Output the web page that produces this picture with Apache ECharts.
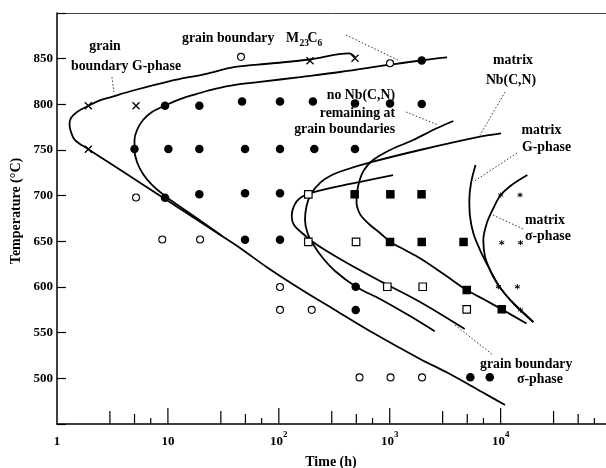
<!DOCTYPE html>
<html><head><meta charset="utf-8">
<script src="https://cdn.jsdelivr.net/npm/echarts@6/dist/echarts.min.js"></script>
<style>html,body{margin:0;padding:0;background:#fff}#c{width:606px;height:468px}</style>
</head><body><div id="c"></div>
<script>
// ---- data: [time (h), temperature (°C)] ----
const yTicks = [500, 550, 600, 650, 700, 750, 800, 850];
const xMinorTicks = [3,5,7,10,30,50,70,100,300,500,700,1000,3000,5000,7000,10000,30000,50000,70000];

const openCircles = [[45.6,852],[1006,845],[5.16,698],[8.9,652],[19.5,652],[102.5,600],[102.5,575],[198,575],[534,501],[1017,501],[1956,501]];
const filledCircles = [[9.42,798.5],[19.2,798.5],[46.6,803],[102.5,803],[203,803],[486,801],[1006,801],[1944,800.4],[1944,848],
  [5.0,751],[10.1,751],[19.2,751],[49.6,751],[102.5,751],[209,751],[486,751],
  [9.42,697.8],[19.2,701.5],[49.6,702.6],[102.5,702.6],[49.6,651.8],[102.5,651.8],
  [493.6,600.3],[493.6,574.8],[5331,501.1],[7975,501.1]];
const crosses = [[1.915,798.5],[5.16,798.5],[1.915,750.8],[191,847.8],[486,850.4]];
const openSquares = [[184.5,701.5],[184.5,649.3],[497,649.3],[951,600.3],[1984,600.3],[4946,575.6]];
const filledSquares = [[483,701.5],[1013,701.5],[1936,701.5],[1006,649.3],[1944,649.3],[4630,649.3],[4946,596.7],[10230,575.6]];
const stars = [[10020,700.7],[14960,700.7],[10230,648.5],[15110,648.5],[9535,600.3],[14150,600.3],[15110,574.8]];

const gbGphase = [[486,851.8],[430,855.7],[191,849.1],[83.3,844.7],[40.3,840.9],[21.6,833.2],[10.44,825.5],[5.05,815.7],[3.07,808.0],[2.343,803.6],[1.904,798.2],[1.515,791.6],[1.337,785.0],[1.296,778.5],[1.337,769.7],[1.453,760.9],[1.904,751.1],[2.71,739.0],[3.857,727.0],[6.22,710.6],[9.42,696.3],[14.27,682.1],[21.6,667.9],[30.7,655.8],[44.7,642.7],[79.9,620.8],[161.9,596.7],[321,574.8],[637,552.9],[1876,521.2],[3355,505.8],[6798,485.0],[10960,470.8]];
const gbM23C6 = [[3286,851.3],[1876,848.0],[965,843.1],[356,835.4],[155.3,829.9],[67.7,824.5],[40.3,821.2],[26.6,816.8],[19.47,812.4],[12.86,805.8],[9.42,798.7],[7.19,791.6],[5.964,782.8],[5.265,771.9],[4.998,760.9],[4.998,750.0],[5.265,736.9],[5.964,723.7],[7.19,711.7],[9.42,699.6],[13.40,686.5],[18.68,674.4],[26.6,661.3],[30.7,655.8]];
const gbSigma = [[1071,722.6],[438.5,712.8],[203.4,703.5],[155.3,697.4],[137.1,688.7],[130.7,677.7],[137.1,667.9],[161.9,659.1],[203.4,649.3],[261,640.5],[412,626.3],[817.6,606.6],[1876,583.6],[4745,554.0]];
const matrixNbCN = [[10084,768.3],[6521,764.6],[1876,750.0],[707,737.2],[395,728.1],[289.5,721.5],[235.2,713.9],[195.2,701.8],[177.8,688.7],[172.3,673.4],[181.5,659.1],[203.4,647.1],[245.2,632.8],[321,617.5],[496.7,600.3],[817.6,586.9],[1524,568.2],[2546,551.5]];
const noNbCN = [[3746,781.8],[2562,773.0],[1623,760.9],[1006,750.0],[707,739.0],[586.6,728.1],[536.4,717.2],[507.2,704.0],[501.9,692.0],[523.2,683.2],[562.7,676.6],[664.3,667.9],[817.6,659.1],[1006,649.6],[1374,640.5],[1876,631.4],[3152,613.1],[4946,596.7],[7235,585.8],[10230,575.6],[17125,560.0]];
const matrixG = [[5939,733.6],[5409,713.9],[5222,695.3],[5298,677.0],[5674,658.8],[6521,640.5],[8024,618.6],[9280,604.4],[10960,592.3],[13487,580.3],[19720,561.7]];
const matrixSigma = [[17410,722.6],[12597,711.7],[10021,700.7],[8596,686.2],[7494,669.7],[6982,651.5],[7235,633.2],[8024,618.6],[9280,604.4],[10960,592.3],[13487,580.3],[19720,561.7]];
const leaders = [
  [[3.13,829.9],[3.266,813.5]],
  [[403.6,875.9],[1188,848.5]],
  [[1403,791.6],[2727,777.4]],
  [[10960,813.5],[6521,766.4]],
  [[14060,746.7],[5638,715.0]],
  [[8542,678.8],[15920,663.5]],
  [[3880,558.4],[8542,525.5]]
];

// ---- chart ----
const FF = '"Liberation Serif","Times New Roman",serif';
const chart = echarts.init(document.getElementById('c'), null, {renderer:'canvas'});
const XMAX = Math.pow(10, 4.95);

function sc(data, symbol, size, fill, bw) {
  return {type:'scatter', data, symbol, symbolSize:size, silent:true, animation:false, z:6,
    itemStyle:{color:fill, borderColor:'#000', borderWidth:bw, opacity:1}};
}
function ln(data) {
  return {type:'line', data, showSymbol:false, symbol:'none', smooth:0.35, silent:true, animation:false, z:4,
    lineStyle:{color:'#000', width:1.8}};
}
const series = [
  ln(gbGphase), ln(gbM23C6), ln(gbSigma), ln(matrixNbCN), ln(noNbCN), ln(matrixG), ln(matrixSigma),
  ...leaders.map(d => ({type:'line', data:d, showSymbol:false, symbol:'none', silent:true, animation:false, z:3,
    lineStyle:{color:'#333', width:1, type:[1.5,2]}})),
  sc(openCircles, 'circle', 7, '#fff', 1.1),
  sc(filledCircles, 'circle', 8.5, '#000', 0),
  sc(crosses, 'path://M0,0L10,10M10,0L0,10', 7, 'none', 1.3),
  sc(openSquares, 'rect', 7.5, '#fff', 1.2),
  sc(filledSquares, 'rect', 8.5, '#000', 0),
  sc(stars, 'path://M5,0L5,10M0,2.5L10,7.5M0,7.5L10,2.5', 5, 'none', 1),
  {type:'custom', silent:true, animation:false, z:7, clip:false,
   data: xMinorTicks.map(v => [v, 450]),
   renderItem: (params, api) => {
     const v = api.value(0);
     const p = api.coord([v, 450]);
     const e = Math.floor(Math.log10(v) + 1e-9);
     const m = Math.round(v / Math.pow(10, e));
     const len = m === 1 ? 16 : m === 3 ? 13 : m === 5 ? 10 : 6;
     return {type:'line', shape:{x1:p[0], y1:p[1], x2:p[0], y2:p[1]-len}, style:{stroke:'#000', lineWidth:1.2}};
   }}
];

function txt(text, x, y, align, size) {
  const s = size || 13.8;
  return {type:'text', x, y, silent:true, z:20,
    style:{text, fill:'#000', font:'bold ' + s + 'px ' + FF, fontSize:s, fontWeight:'bold', fontFamily:FF,
      align, textAlign:align, verticalAlign:'middle', textVerticalAlign:'middle'}};
}

chart.setOption({
  animation:false,
  backgroundColor:'#fff',
  grid:{left:57, top:13, right:0, bottom:44, containLabel:false},
  xAxis:[{
    type:'log', logBase:10, min:1, max:XMAX, gridIndex:0,
    axisLine:{show:true, onZero:false, lineStyle:{color:'#000', width:1.5}},
    axisTick:{show:false}, minorTick:{show:false}, splitLine:{show:false},
    axisLabel:{
      margin:6, color:'#000', showMaxLabel:false,
      formatter:(v) => {
        const l = Math.log10(v);
        const k = Math.round(l);
        if (Math.abs(l - k) > 1e-6) return '';
        if (k === 0) return '{m|1}';
        if (k === 1) return '{m|10}';
        return '{m|10}{s|' + k + '}';
      },
      rich:{
        m:{fontFamily:FF, fontWeight:'bold', fontSize:13, lineHeight:18, verticalAlign:'bottom', color:'#000'},
        s:{fontFamily:FF, fontWeight:'bold', fontSize:9, lineHeight:9, verticalAlign:'top', color:'#000'}
      }
    }
  },{
    type:'log', logBase:10, min:1, max:XMAX, gridIndex:0, position:'top',
    axisLine:{show:true, onZero:false, lineStyle:{color:'#444', width:1}},
    axisTick:{show:false}, axisLabel:{show:false}, splitLine:{show:false}
  }],
  yAxis:{
    type:'value', min:450, max:900, interval:50,
    axisLine:{show:true, onZero:false, lineStyle:{color:'#000', width:1.5}},
    axisTick:{show:true, inside:true, length:9, lineStyle:{color:'#000', width:1.2}},
    splitLine:{show:false},
    axisLabel:{margin:4, color:'#000', fontFamily:FF, fontWeight:'bold', fontSize:13,
      formatter:(v) => (yTicks.indexOf(v) >= 0 ? String(v) : '')}
  },
  series,
  graphic:[
    txt('grain', 105, 46, 'center'),
    txt('boundary G-phase', 126, 66, 'center'),
    txt('grain boundary', 182, 38, 'left'),
    txt('M', 286, 38, 'left'),
    txt('23', 299.5, 43.5, 'left', 9.5),
    txt('C', 307.5, 38, 'left'),
    txt('6', 317.5, 44, 'left', 9.5),
    txt('no Nb(C,N)', 395, 95, 'right'),
    txt('remaining at', 395, 113, 'right'),
    txt('grain boundaries', 395, 129, 'right'),
    txt('matrix', 513, 60, 'center'),
    txt('Nb(C,N)', 511, 80, 'center'),
    txt('matrix', 521.5, 130, 'left'),
    txt('G-phase', 522, 147, 'left'),
    txt('matrix', 525, 220, 'left'),
    txt('σ-phase', 525, 236, 'left'),
    txt('grain boundary', 480, 364, 'left'),
    txt('σ-phase', 517, 379, 'left'),
    Object.assign(txt('Temperature (°C)', 16, 211, 'center', 14), {rotation:Math.PI/2}),
    txt('Time (h)', 331, 462, 'center', 14)
  ]
});
</script>
</body></html>
